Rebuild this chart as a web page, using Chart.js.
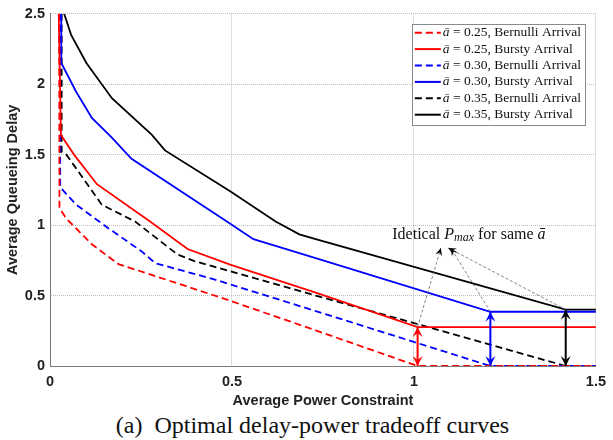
<!DOCTYPE html>
<html>
<head>
<meta charset="utf-8">
<script src="https://cdn.jsdelivr.net/npm/chart.js@4/dist/chart.umd.min.js"></script>
<style>
  html, body { margin: 0; padding: 0; background: #fff; }
  #wrap { position: relative; width: 613px; height: 440px; }
  #caption {
    position: absolute; left: 6px; top: 411px; width: 613px;
    text-align: center; font: 24px/28px "Liberation Serif", serif; color: #111;
    white-space: nowrap;
  }
</style>
</head>
<body>
<div id="wrap">
  <canvas id="chart" width="613" height="410"></canvas>
  <div id="caption">(a)&nbsp; Optimal delay-power tradeoff curves</div>
</div>
<script>
/* ---------------------------
   Data
--------------------------- */
const xTicks = [0, 0.5, 1, 1.5];
const yTicks = [0, 0.5, 1, 1.5, 2, 2.5];

const bern25X = [0.025, 0.026, 0.045, 0.115, 0.188, 0.37, 0.495, 0.73, 1.01, 1.5];
const bern25Y = [2.5, 1.12, 1.046, 0.864, 0.723, 0.57, 0.463, 0.253, 0, 0];

const burst25X = [0.024, 0.03, 0.066, 0.129, 0.275, 0.378, 0.495, 0.73, 1.01, 1.5];
const burst25Y = [2.5, 1.64, 1.50, 1.29, 1.025, 0.83, 0.72, 0.52, 0.276, 0.276];

const bern30X = [0.028, 0.028, 0.045, 0.072, 0.161, 0.251, 0.289, 0.451, 0.73, 1.21, 1.5];
const bern30Y = [2.5, 1.27, 1.22, 1.145, 0.976, 0.815, 0.73, 0.615, 0.39, 0, 0];

const burst30X = [0.031, 0.031, 0.071, 0.115, 0.17, 0.224, 0.486, 0.559, 0.649, 0.73, 1.21, 1.5];
const burst30Y = [2.5, 2.15, 1.95, 1.76, 1.62, 1.47, 1.025, 0.90, 0.83, 0.765, 0.385, 0.385];

const bern35X = [0.032, 0.032, 0.045, 0.142, 0.234, 0.351, 0.397, 0.73, 1.02, 1.417, 1.5];
const bern35Y = [2.5, 1.52, 1.50, 1.145, 1.025, 0.79, 0.744, 0.50, 0.29, 0, 0];

const burst35X = [0.039, 0.058, 0.10, 0.17, 0.28, 0.316, 0.495, 0.62, 0.685, 0.73, 1.417, 1.5];
const burst35Y = [2.5, 2.35, 2.15, 1.90, 1.64, 1.53, 1.24, 1.025, 0.934, 0.90, 0.40, 0.40];

const seriesLabels = [
  "ā = 0.25, Bernulli Arrival",
  "ā = 0.25, Bursty Arrival",
  "ā = 0.30, Bernulli Arrival",
  "ā = 0.30, Bursty Arrival",
  "ā = 0.35, Bernulli Arrival",
  "ā = 0.35, Bursty Arrival"
];

// gap between bursty and bernoulli curves at P_max
const gapX = [1.01, 1.21, 1.417];
const gapTop = [0.276, 0.385, 0.40];
// where the dashed callout arrows point to
const calloutTipX = [1.074, 1.101, 1.094];
const calloutTipY = [0.838, 0.838, 0.838];
const calloutTextX = 1.151;
const calloutTextY = 0.934;

/* ---------------------------
   Helpers
--------------------------- */
function pts(xs, ys) {
  return xs.map((v, i) => ({ x: v, y: ys[i] }));
}

const RED = "#ff0000", BLUE = "#0000ff", BLACK = "#000000";
const gapColors = [RED, BLUE, BLACK];
const DASH = [7, 4];

function ds(label, xs, ys, color, dashed) {
  return {
    label,
    data: pts(xs, ys),
    borderColor: color,
    backgroundColor: color,
    borderWidth: 1.8,
    borderDash: dashed ? DASH : [],
    pointRadius: 0,
    tension: 0,
    fill: false
  };
}

function arrowHead(ctx, tx, ty, fx, fy, len, half, filled) {
  const a = Math.atan2(ty - fy, tx - fx);
  const bx = tx - len * Math.cos(a), by = ty - len * Math.sin(a);
  const nx = -Math.sin(a), ny = Math.cos(a);
  ctx.beginPath();
  ctx.moveTo(bx + nx * half, by + ny * half);
  ctx.lineTo(tx, ty);
  ctx.lineTo(bx - nx * half, by - ny * half);
  if (filled) {
    ctx.lineTo(tx - len * 0.6 * Math.cos(a), ty - len * 0.6 * Math.sin(a));
    ctx.closePath();
    ctx.fill();
  } else {
    ctx.stroke();
  }
}

/* ---------------------------
   Annotation plugin
--------------------------- */
const calloutPlugin = {
  id: "callout",
  afterDatasetsDraw(chart) {
    const { ctx, scales: { x, y } } = chart;
    ctx.save();

    // thin dashed arrows towards the text
    gapX.forEach((gx, i) => {
      const fx = x.getPixelForValue(gx), fy = y.getPixelForValue(gapTop[i]);
      const tx = x.getPixelForValue(calloutTipX[i]), ty = y.getPixelForValue(calloutTipY[i]);
      ctx.strokeStyle = "#666";
      ctx.lineWidth = 0.8;
      ctx.setLineDash([3, 2]);
      ctx.beginPath();
      ctx.moveTo(fx, fy);
      ctx.lineTo(tx, ty);
      ctx.stroke();
      ctx.setLineDash([]);
      ctx.fillStyle = "#000";
      arrowHead(ctx, tx, ty, fx, fy, 8, 3.5, true);
    });

    // double-headed vertical arrows
    gapX.forEach((gx, i) => {
      const px = x.getPixelForValue(gx);
      const p0 = y.getPixelForValue(0);
      const p1 = y.getPixelForValue(gapTop[i]);
      ctx.strokeStyle = gapColors[i];
      ctx.fillStyle = gapColors[i];
      ctx.lineWidth = 2;
      ctx.setLineDash([]);
      ctx.beginPath();
      ctx.moveTo(px, p0);
      ctx.lineTo(px, p1);
      ctx.stroke();
      arrowHead(ctx, px, p0, px, p1, 10, 5, true);
      arrowHead(ctx, px, p1, px, p0, 10, 5, true);
    });

    // text "Idetical P_max for same ā"
    const parts = [
      { t: "Idetical ", f: "16px 'Liberation Serif'", dy: 0 },
      { t: "P", f: "italic 16px 'Liberation Serif'", dy: 0 },
      { t: "max", f: "italic 12px 'Liberation Serif'", dy: 3 },
      { t: " for same ", f: "16px 'Liberation Serif'", dy: 0 },
      { t: "ā", f: "italic 16px 'Liberation Serif'", dy: 0 }
    ];
    let total = 0;
    parts.forEach(p => { ctx.font = p.f; p.w = ctx.measureText(p.t).width; total += p.w; });
    let cx = x.getPixelForValue(calloutTextX) - total / 2;
    const cy = y.getPixelForValue(calloutTextY);
    ctx.fillStyle = "#111";
    ctx.textBaseline = "middle";
    ctx.textAlign = "left";
    parts.forEach(p => {
      ctx.font = p.f;
      ctx.fillText(p.t, cx, cy + p.dy);
      cx += p.w;
    });

    ctx.restore();
  }
};

/* ---------------------------
   Legend plugin (inside the axes, top right)
--------------------------- */
const boxLegendPlugin = {
  id: "boxLegend",
  afterDraw(chart) {
    const { ctx, chartArea } = chart;
    const sets = chart.data.datasets;
    const rowH = 16.4, sample = 26;
    const fMain = "13.5px 'Liberation Serif'";
    const fIt = "italic 13.5px 'Liberation Serif'";
    ctx.save();
    let maxW = 0;
    sets.forEach(d => {
      ctx.font = fIt; let w = ctx.measureText(d.label[0]).width;
      ctx.font = fMain; w += ctx.measureText(d.label.slice(1)).width;
      maxW = Math.max(maxW, w);
    });
    const w = 3 + sample + 2 + maxW + 4;
    const h = rowH * sets.length + 3;
    const left = chartArea.right - 11 - w;
    const top = chartArea.top + 10;
    ctx.fillStyle = "#fff";
    ctx.fillRect(left, top, w, h);
    ctx.strokeStyle = "#8a8a8a";
    ctx.lineWidth = 1;
    ctx.strokeRect(Math.round(left) + 0.5, Math.round(top) + 0.5, Math.round(w), Math.round(h));

    sets.forEach((d, i) => {
      const cy = top + 9 + i * rowH;
      ctx.strokeStyle = d.borderColor;
      ctx.lineWidth = 2;
      ctx.setLineDash(d.borderDash || []);
      ctx.beginPath();
      ctx.moveTo(left + 3, cy);
      ctx.lineTo(left + 3 + sample, cy);
      ctx.stroke();
      ctx.setLineDash([]);
      ctx.fillStyle = "#111";
      ctx.textBaseline = "middle";
      let tx = left + 3 + sample + 2;
      ctx.font = fIt;
      ctx.fillText(d.label[0], tx, cy);
      tx += ctx.measureText(d.label[0]).width;
      ctx.font = fMain;
      ctx.fillText(d.label.slice(1), tx, cy);
    });
    ctx.restore();
  }
};

/* ---------------------------
   Chart
--------------------------- */
const gridOpts = {
  color: "#bdbdbd",
  lineWidth: 1,
  drawTicks: false
};
const axisBorder = { display: true, color: "#7a7a7a", width: 1, dash: [1, 1] };
const tickFont = { family: "'Liberation Sans', Arial, sans-serif", size: 14.5, weight: "bold" };
const fmt = v => String(v);

new Chart(document.getElementById("chart").getContext("2d"), {
  type: "line",
  data: {
    datasets: [
      ds(seriesLabels[0], bern25X, bern25Y, RED, true),
      ds(seriesLabels[1], burst25X, burst25Y, RED, false),
      ds(seriesLabels[2], bern30X, bern30Y, BLUE, true),
      ds(seriesLabels[3], burst30X, burst30Y, BLUE, false),
      ds(seriesLabels[4], bern35X, bern35Y, BLACK, true),
      ds(seriesLabels[5], burst35X, burst35Y, BLACK, false)
    ]
  },
  options: {
    responsive: false,
    animation: false,
    layout: { padding: { left: 0, right: 9, top: 10, bottom: 0 } },
    plugins: {
      legend: { display: false },
      tooltip: { enabled: false }
    },
    scales: {
      x: {
        type: "linear",
        min: xTicks[0],
        max: xTicks[xTicks.length - 1],
        afterBuildTicks: s => { s.ticks = xTicks.map(v => ({ value: v })); },
        afterFit: s => { s.height = 44; },
        grid: gridOpts,
        border: axisBorder,
        ticks: { font: tickFont, color: "#222", padding: 7, maxRotation: 0, callback: fmt },
        title: {
          display: true,
          text: "Average Power Constraint",
          font: tickFont,
          color: "#222",
          padding: { top: 0, bottom: 0 }
        }
      },
      y: {
        type: "linear",
        min: yTicks[0],
        max: yTicks[yTicks.length - 1],
        afterBuildTicks: s => { s.ticks = yTicks.map(v => ({ value: v })); },
        afterFit: s => { s.width = 50; },
        grid: gridOpts,
        border: axisBorder,
        ticks: { font: tickFont, color: "#222", padding: 5, callback: fmt },
        title: {
          display: true,
          text: "Average Queueing Delay",
          font: tickFont,
          color: "#222",
          padding: { top: 4, bottom: 0 }
        }
      }
    }
  },
  plugins: [calloutPlugin, boxLegendPlugin]
});
</script>
</body>
</html>
